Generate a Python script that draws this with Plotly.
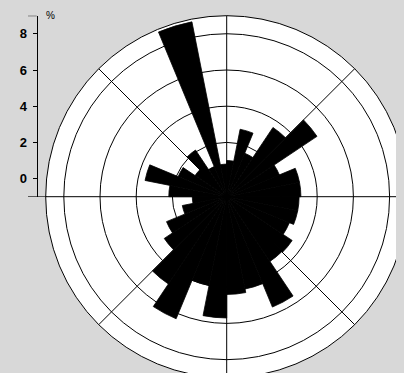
import plotly.graph_objects as go

# 32 direction sectors of 11.25 degrees (clockwise from north)
sector_width = 11.25
sector_centers = [sector_width * (k + 0.5) for k in range(32)]
freq_pct = [1.0, 2.8, 1.6, 3.6, 5.0, 2.15, 3.1, 3.1,
            3.0, 3.0, 2.75, 3.35, 3.3, 5.6, 4.2, 4.4,
            5.7, 4.0, 6.3, 4.8, 3.15, 2.6, 1.5, 0.9,
            2.2, 3.6, 1.9, 1.1, 2.1, 0.8, 8.85, 0.8]
radial_ticks = [0, 2, 4, 6, 8]
radial_min, radial_max = -1, 9
unit_label = "%"
bg = "#d8d8d8"

# page body has an 8px margin, so figure coords = screen coords - 8
OFF = 8
W, H = 400, 370
cx, cy, R = 226.7 - OFF, 196.7 - OFF, 181.0
x_axis = (36.7 - OFF) / W

fig = go.Figure()
fig.add_trace(go.Barpolar(
    theta=sector_centers,
    r=[v - radial_min for v in freq_pct],
    base=radial_min,
    width=[sector_width] * len(sector_centers),
    marker=dict(color="black", line=dict(width=0.8, color="black")),
    hoverinfo="skip",
    showlegend=False,
))
# invisible trace so the cartesian scale axis is drawn
fig.add_trace(go.Scatter(x=[0], y=[0], mode="markers",
                         marker=dict(opacity=0), hoverinfo="skip",
                         showlegend=False))

fig.update_layout(
    width=W, height=H,
    margin=dict(l=0, r=0, t=0, b=0),
    paper_bgcolor=bg,
    plot_bgcolor="rgba(0,0,0,0)",
    polar=dict(
        domain=dict(x=[(cx - R) / W, (cx + R) / W],
                    y=[1 - (cy + R) / H, 1 - (cy - R) / H]),
        bgcolor="white",
        radialaxis=dict(range=[radial_min, radial_max], tickvals=radial_ticks,
                        showticklabels=False, ticks="", showline=False,
                        gridcolor="black", gridwidth=1, layer="below traces"),
        angularaxis=dict(rotation=90, direction="clockwise",
                         tickvals=list(range(0, 360, 45)),
                         showticklabels=False, ticks="",
                         gridcolor="black", gridwidth=1,
                         showline=True, linecolor="black", linewidth=1,
                         layer="below traces"),
    ),
    xaxis=dict(visible=False, domain=[0, 0.02], range=[1, 2]),
    yaxis=dict(domain=[1 - cy / H, 1 - (cy - R) / H],
               range=[radial_min, radial_max],
               tickvals=radial_ticks, ticks="outside", ticklen=4,
               tickcolor="black", showline=True, linecolor="black",
               linewidth=1, showgrid=False, zeroline=False,
               anchor="free", position=x_axis, ticklabelstandoff=3,
               tickfont=dict(family="Liberation Sans", size=13, color="#000",
                             weight="bold")),
    font=dict(family="Liberation Sans"),
    showlegend=False,
)

fig.add_shape(type="line", xref="paper", yref="y", x0=(28 - OFF) / W, x1=x_axis,
              y0=radial_max, y1=radial_max, line=dict(color="black", width=1))
fig.add_shape(type="line", xref="paper", yref="y", x0=(28 - OFF) / W,
              x1=(cx - R + 1) / W,
              y0=radial_min, y1=radial_min, line=dict(color="black", width=1))
fig.add_annotation(text=unit_label, xref="paper", yref="y", x=(44 - OFF) / W,
                   y=radial_max, xanchor="left", yanchor="middle", showarrow=False,
                   font=dict(family="Liberation Sans", size=10, color="#000"))

fig.write_html("out.html",
               post_script="document.body.style.backgroundColor='%s';" % bg)
